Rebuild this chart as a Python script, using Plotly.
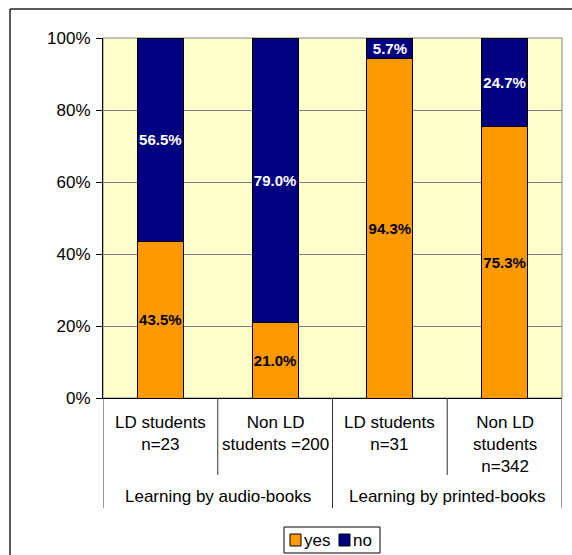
import plotly.graph_objects as go

# Survey shares (%) by student group and learning medium
groups = ["LD students<br>n=23", "Non LD<br>students =200",
          "LD students<br>n=31", "Non LD<br>students<br>n=342"]
media = ["Learning by audio-books", "Learning by printed-books"]
yes_pct = [43.5, 21.0, 94.3, 75.3]
no_pct = [56.5, 79.0, 5.7, 24.7]
series_names = ["yes", "no"]
series_colors = ["#FF9900", "#000080"]
label_colors = ["#000000", "#FFFFFF"]

W, H = 572, 555
ML, MR, MT, MB = 103, 10, 38, 157
PW, PH = W - ML - MR, H - MT - MB
FONT = "Liberation Sans, Arial, sans-serif"
FS = 17


def px_x(px):
    return (px - ML) / PW


def px_y(py):
    return (H - MB - py) / PH


x = list(range(len(groups)))
fig = go.Figure()
for name, vals, col, tcol in zip(series_names, [yes_pct, no_pct], series_colors, label_colors):
    fig.add_trace(go.Bar(
        x=x, y=vals, name=name, width=0.4,
        marker=dict(color=col, line=dict(color="#000000", width=1)),
        text=vals, texttemplate="%{y:.1f}%", textposition="inside",
        insidetextanchor="middle", textangle=0, constraintext="none",
        textfont=dict(family=FONT, size=15, color=tcol, weight="bold"),
        hoverinfo="skip", showlegend=False,
    ))

shapes = []
annotations = []

# plot frame (top/right in grey)
shapes.append(dict(type="rect", xref="paper", yref="paper", x0=0, x1=1, y0=0, y1=1,
                   line=dict(color="#808080", width=1), layer="below"))

# category dividers beneath the axis
n_per_group = len(groups) // len(media)
for b in range(len(groups) + 1):
    major = b % n_per_group == 0
    shapes.append(dict(type="line", xref="x", yref="paper", x0=b - 0.5, x1=b - 0.5,
                       y0=0, y1=px_y(508 if major else 475),
                       line=dict(color="#333333", width=1)))

# category labels
for i, g in enumerate(groups):
    annotations.append(dict(x=i, y=px_y(411), xref="x", yref="paper", text=g,
                            showarrow=False, yanchor="top", xanchor="center",
                            font=dict(family=FONT, size=FS, color="#000000")))
# medium labels
for j, m in enumerate(media):
    annotations.append(dict(x=j * n_per_group + (n_per_group - 1) / 2, y=px_y(497),
                            xref="x", yref="paper", text=m, showarrow=False,
                            yanchor="middle", xanchor="center",
                            font=dict(family=FONT, size=FS, color="#000000")))

# legend box
shapes.append(dict(type="rect", xref="paper", yref="paper",
                   x0=px_x(284), x1=px_x(380), y0=px_y(553), y1=px_y(527),
                   line=dict(color="#000000", width=1), fillcolor="#FFFFFF"))
legend_sq = [290, 339]
for name, col, sx in zip(series_names, series_colors, legend_sq):
    shapes.append(dict(type="rect", xref="paper", yref="paper",
                       x0=px_x(sx), x1=px_x(sx + 11), y0=px_y(546), y1=px_y(534),
                       line=dict(color="#000000", width=1), fillcolor=col))
    annotations.append(dict(x=px_x(sx + 12), y=px_y(540), xref="paper", yref="paper",
                            text=name, showarrow=False, xanchor="left", yanchor="middle",
                            font=dict(family=FONT, size=FS, color="#000000")))

# outer chart border
shapes.append(dict(type="line", xref="paper", yref="paper", x0=px_x(10), x1=px_x(575),
                   y0=px_y(9), y1=px_y(9), line=dict(color="#222222", width=1.5)))
shapes.append(dict(type="line", xref="paper", yref="paper", x0=px_x(10), x1=px_x(10),
                   y0=px_y(9), y1=px_y(560), line=dict(color="#222222", width=1.5)))

fig.update_layout(
    width=W, height=H, barmode="stack",
    margin=dict(l=ML, r=MR, t=MT, b=MB, pad=0),
    paper_bgcolor="#FFFFFF", plot_bgcolor="#FFFFCC",
    shapes=shapes, annotations=annotations, showlegend=False,
    xaxis=dict(range=[-0.5, len(groups) - 0.5], showticklabels=False, ticks="",
               showgrid=False, zeroline=False, showline=True, linecolor="#000000",
               linewidth=1),
    yaxis=dict(range=[0, 100], dtick=20, ticksuffix="%", showgrid=True,
               gridcolor="#808080", gridwidth=1, zeroline=False, showline=True,
               linecolor="#000000", linewidth=1, ticks="outside", ticklen=6,
               tickcolor="#000000", ticklabelstandoff=2,
               tickfont=dict(family=FONT, size=FS, color="#000000")),
)

fig.write_html("out.html", config={"displayModeBar": False})
